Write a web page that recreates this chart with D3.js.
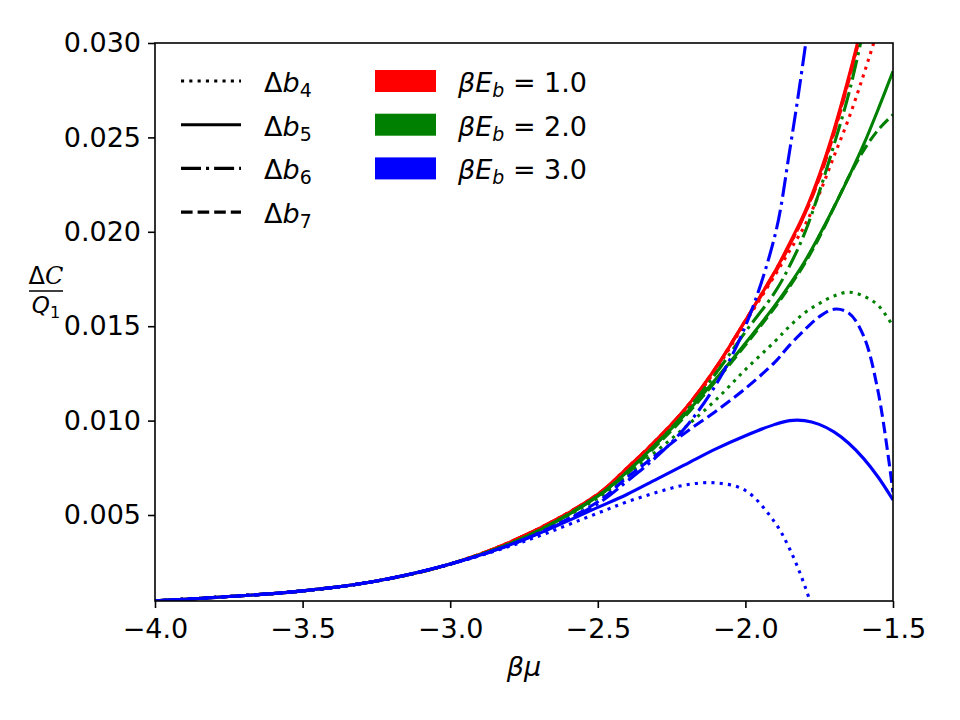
<!DOCTYPE html>
<html>
<head>
<meta charset="utf-8">
<script src="https://cdn.jsdelivr.net/npm/d3@7"></script>
<style>
  body { margin: 0; background: #fff; }
  text { font-family: "DejaVu Sans", sans-serif; }
</style>
</head>
<body>
<svg width="960" height="720"></svg>
<script>
// beta*mu grid
var betaMu = [-4.0, -3.75, -3.5, -3.25, -3.0, -2.75, -2.5, -2.4, -2.3, -2.2, -2.1, -2.0, -1.9, -1.85, -1.8, -1.75, -1.7, -1.65, -1.6, -1.55, -1.5];

// beta E_b = 1.0 (red)
var db4_E1 = [0.00045, 0.00068, 0.00098, 0.0015, 0.0024, 0.0039, 0.0061, 0.0075, 0.0090, 0.0106, 0.0127, 0.0152, 0.0177, 0.0190, 0.0203, 0.0220, 0.0240, 0.0260, 0.0283, 0.0308, 0.0336];
var db5_E1 = [0.00045, 0.00068, 0.00098, 0.0015, 0.0024, 0.0039, 0.0061, 0.0075, 0.0090, 0.0107, 0.0128, 0.0153, 0.0179, 0.0194, 0.0210, 0.0230, 0.0254, 0.0282, 0.0313, 0.0348, 0.0388];
var db6_E1 = [0.00045, 0.00068, 0.00098, 0.0015, 0.0024, 0.0039, 0.0061, 0.0075, 0.0090, 0.0107, 0.0128, 0.0153, 0.0179, 0.0193, 0.0209, 0.0229, 0.0253, 0.0281, 0.0312, 0.0347, 0.0386];
var db7_E1 = [0.00045, 0.00068, 0.00098, 0.0015, 0.0024, 0.0039, 0.0061, 0.0075, 0.0090, 0.0107, 0.0128, 0.0153, 0.0178, 0.0193, 0.0209, 0.0228, 0.0252, 0.0280, 0.0311, 0.0345, 0.0384];

// beta E_b = 2.0 (green)
var db4_E2 = [0.00045, 0.00068, 0.00098, 0.0015, 0.0024, 0.0038, 0.0059, 0.0071, 0.0084, 0.0097, 0.0111, 0.0127, 0.0142, 0.0150, 0.0157, 0.0162, 0.0166, 0.0168, 0.0166, 0.0161, 0.0150];
var db5_E2 = [0.00045, 0.00068, 0.00098, 0.0015, 0.0024, 0.0038, 0.0060, 0.0073, 0.0088, 0.0104, 0.0122, 0.0141, 0.0161, 0.0172, 0.0184, 0.0198, 0.0213, 0.0229, 0.0246, 0.0265, 0.0285];
var db6_E2 = [0.00045, 0.00068, 0.00098, 0.0015, 0.0024, 0.0038, 0.0060, 0.0073, 0.0088, 0.0105, 0.0125, 0.0147, 0.0168, 0.0182, 0.0199, 0.0221, 0.0246, 0.0273, 0.0307, 0.0345, 0.0390];
var db7_E2 = [0.00045, 0.00068, 0.00098, 0.0015, 0.0024, 0.0038, 0.0060, 0.0072, 0.0087, 0.0103, 0.0121, 0.0140, 0.0160, 0.0171, 0.0183, 0.0197, 0.0213, 0.0229, 0.0243, 0.0254, 0.0262];

// beta E_b = 3.0 (blue)
var db4_E3 = [0.00045, 0.00068, 0.00098, 0.0015, 0.0024, 0.0036, 0.0051, 0.0057, 0.0062, 0.0066, 0.0067, 0.0063, 0.0046, 0.0032, 0.0013, -0.0011, null, null, null, null, null];
var db5_E3 = [0.00045, 0.00068, 0.00098, 0.0015, 0.0024, 0.0037, 0.0054, 0.0061, 0.0069, 0.0077, 0.0085, 0.0092, 0.0098, 0.0100, 0.0100, 0.0098, 0.0094, 0.0088, 0.0080, 0.0070, 0.0058];
var db6_E3 = [0.00045, 0.00068, 0.00098, 0.0015, 0.0024, 0.0037, 0.0056, 0.0068, 0.0081, 0.0097, 0.0119, 0.0150, 0.0198, 0.0243, 0.0295, 0.0355, null, null, null, null, null];
var db7_E3 = [0.00045, 0.00068, 0.00098, 0.0015, 0.0024, 0.0037, 0.0057, 0.0070, 0.0082, 0.0094, 0.0105, 0.0117, 0.0131, 0.0140, 0.0148, 0.0155, 0.0159, 0.0157, 0.0145, 0.0115, 0.0062];

var xTicks = [-4.0, -3.5, -3.0, -2.5, -2.0, -1.5];
var yTicks = [0.005, 0.010, 0.015, 0.020, 0.025, 0.030];
var ebLabels = ["1.0", "2.0", "3.0"];
var ebColors = ["#ff0000", "#008000", "#0000ff"];
var bIndex = ["4", "5", "6", "7"];
var bDash = ["3.1,5.2", null, "20,5,3.1,5", "11.6,5"];

var series = [
  {y: db4_E1, c: 0, b: 0}, {y: db5_E1, c: 0, b: 1}, {y: db6_E1, c: 0, b: 2}, {y: db7_E1, c: 0, b: 3},
  {y: db4_E2, c: 1, b: 0}, {y: db5_E2, c: 1, b: 1}, {y: db6_E2, c: 1, b: 2}, {y: db7_E2, c: 1, b: 3},
  {y: db4_E3, c: 2, b: 0}, {y: db5_E3, c: 2, b: 1}, {y: db6_E3, c: 2, b: 2}, {y: db7_E3, c: 2, b: 3}
];

var svg = d3.select("svg");
var plotL = 155, plotR = 893, plotT = 43, plotB = 601;

var x = d3.scaleLinear().domain([-4.0, -1.5]).range([plotL, plotR]);
var y = d3.scaleLinear().domain([0.000445, 0.030]).range([plotB, plotT]);

svg.append("defs").append("clipPath").attr("id", "plot")
  .append("rect").attr("x", plotL).attr("y", plotT)
  .attr("width", plotR - plotL).attr("height", plotB - plotT);

// curves
var line = d3.line()
  .defined(function (d) { return d[1] != null; })
  .x(function (d) { return x(d[0]); })
  .y(function (d) { return y(d[1]); })
  .curve(d3.curveCatmullRom.alpha(0.5));

svg.append("g").attr("clip-path", "url(#plot)")
  .selectAll("path")
  .data(series)
  .enter().append("path")
  .attr("d", function (s) { return line(betaMu.map(function (v, i) { return [v, s.y[i]]; })); })
  .attr("fill", "none")
  .attr("stroke", function (s) { return ebColors[s.c]; })
  .attr("stroke-width", 3.1)
  .attr("stroke-dasharray", function (s) { return bDash[s.b]; });

// axes
var xAxis = svg.append("g").attr("transform", "translate(0," + plotB + ")")
  .call(d3.axisBottom(x).tickValues(xTicks).tickSize(7).tickPadding(7).tickFormat(d3.format(".1f")));
var yAxis = svg.append("g").attr("transform", "translate(" + plotL + ",0)")
  .call(d3.axisLeft(y).tickValues(yTicks).tickSize(7).tickPadding(7).tickFormat(d3.format(".3f")));
[xAxis, yAxis].forEach(function (a) {
  a.select(".domain").remove();
  a.selectAll("line").attr("stroke", "#000").attr("stroke-width", 1.6);
  a.selectAll("text").attr("fill", "#000").style("font-size", "27px")
    .style("font-family", "'DejaVu Sans', sans-serif");
});
xAxis.selectAll("text").attr("dy", "0.85em");

// frame
svg.append("rect").attr("x", plotL).attr("y", plotT)
  .attr("width", plotR - plotL).attr("height", plotB - plotT)
  .attr("fill", "none").attr("stroke", "#000").attr("stroke-width", 1.6);

// x label
svg.append("text").attr("x", (plotL + plotR) / 2).attr("y", 676)
  .attr("text-anchor", "middle").style("font-size", "27px").style("font-style", "italic")
  .text("βμ");

// y label as a fraction
var yl = svg.append("g");
yl.append("text").attr("x", 46).attr("y", 284).attr("text-anchor", "middle")
  .style("font-size", "24px")
  .html('Δ<tspan font-style="italic" font-family="DejaVu Serif">C</tspan>');
yl.append("line").attr("x1", 29).attr("x2", 63).attr("y1", 291).attr("y2", 291)
  .attr("stroke", "#000").attr("stroke-width", 1.6);
yl.append("text").attr("x", 46).attr("y", 313).attr("text-anchor", "middle")
  .style("font-size", "23px")
  .html('<tspan font-style="italic">Q</tspan><tspan font-size="70%" dy="5">1</tspan>');

// legend: line styles
var lg = svg.append("g");
bIndex.forEach(function (b, i) {
  var yy = 81 + i * 43.7;
  lg.append("line").attr("x1", 181).attr("x2", 241).attr("y1", yy).attr("y2", yy)
    .attr("stroke", "#000").attr("stroke-width", 3.1)
    .attr("stroke-dasharray", bDash[i]);
  lg.append("text").attr("x", 264).attr("y", yy + 11).style("font-size", "27px")
    .html('Δ<tspan font-style="italic">b</tspan><tspan font-size="70%" dy="5">' + b + '</tspan>');
});

// legend: colour patches
ebLabels.forEach(function (lab, i) {
  var yy = 81 + i * 43.7;
  lg.append("rect").attr("x", 375).attr("y", yy - 11).attr("width", 61).attr("height", 22)
    .attr("fill", ebColors[i]);
  lg.append("text").attr("x", 458).attr("y", yy + 11).style("font-size", "27px")
    .html('<tspan font-style="italic">βE</tspan><tspan font-style="italic" font-size="70%" dy="5">b</tspan><tspan dy="-5"> = ' + lab + '</tspan>');
});
</script>
</body>
</html>
